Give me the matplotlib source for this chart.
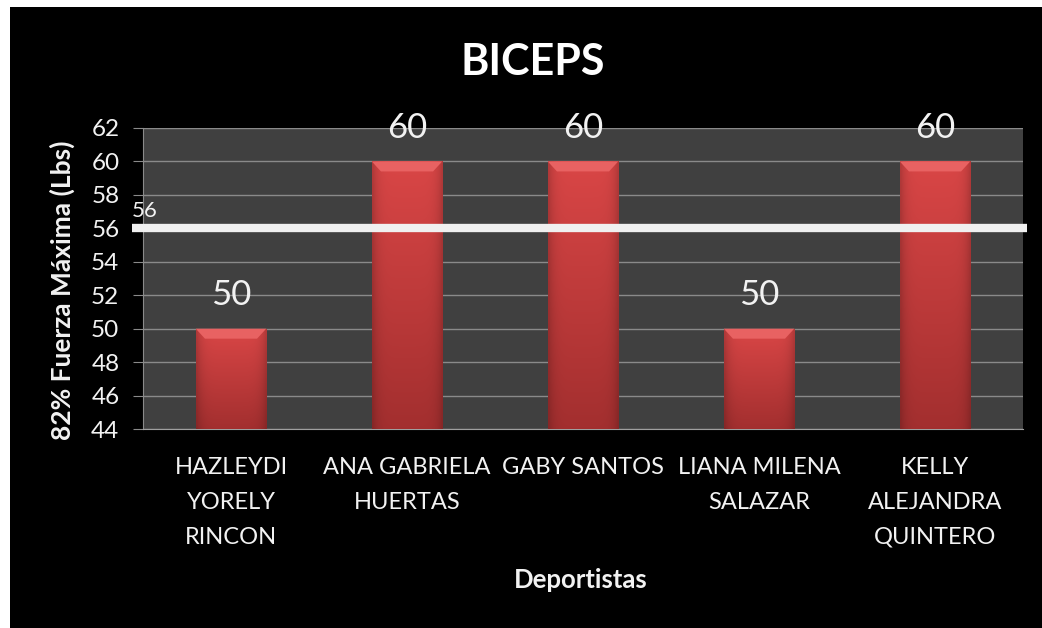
import numpy as np
import matplotlib
matplotlib.use("Agg")
import matplotlib.pyplot as plt
import matplotlib.transforms as mtransforms
from matplotlib.patches import Rectangle, Polygon
from matplotlib.colors import to_rgb

plt.rcParams['font.family'] = ['Lato', 'DejaVu Sans']

# datos del gráfico
deportistas = ["HAZLEYDI\nYORELY\nRINCON", "ANA GABRIELA\nHUERTAS", "GABY SANTOS",
               "LIANA MILENA\nSALAZAR", "KELLY\nALEJANDRA\nQUINTERO"]
fuerza = [50, 60, 60, 50, 60]
referencia = 56
y_ticks = list(range(44, 63, 2))

texto = '#f2f2f2'
gris = '#8a8a8a'

fig = plt.figure(figsize=(10.42, 6.28), dpi=100)
fig.patch.set_facecolor('white')
# fondo negro del gráfico (borde blanco arriba e izquierda)
fig.patches.append(Rectangle((10 / 1042, 0), 1, 1 - 7 / 628, transform=fig.transFigure,
                             facecolor='black', edgecolor='none', zorder=-10))

ax = fig.add_axes([143 / 1042, 1 - 429 / 628, 880 / 1042, 301 / 628])
ax.set_facecolor('#404040')

x = np.arange(len(deportistas))
ancho = 0.4
barras = ax.bar(x, fuerza, width=ancho, color='#c83c3c', zorder=3)

ax.set_xlim(-0.5, len(deportistas) - 0.5)
ax.set_ylim(y_ticks[0], y_ticks[-1])
ax.set_yticks(y_ticks)
ax.yaxis.grid(True, color=gris, lw=1, zorder=1)
ax.set_axisbelow(True)

# degradado rojo en cada barra + bisel superior
top_c = np.array(to_rgb('#d94646'))
bot_c = np.array(to_rgb('#a32f2f'))
filas = np.linspace(0, 1, 60)[:, None]
cols = np.linspace(-1, 1, 40)[None, :]
borde = 1 - 0.18 * np.abs(cols) ** 6
grad = (top_c[None, None, :] * (1 - filas[..., None]) + bot_c[None, None, :] * filas[..., None])
grad = grad * borde[..., None]
ymin = ax.get_ylim()[0]
px_y = (y_ticks[-1] - y_ticks[0]) / 301.0
for b in barras:
    x0, w, h = b.get_x(), b.get_width(), b.get_height()
    im = ax.imshow(grad, extent=(x0, x0 + w, ymin, h), aspect='auto', zorder=3.5,
                   interpolation='bilinear')
    im.set_clip_path(b)
    dx = w * 0.13
    dy = 10 * px_y
    ax.add_patch(Polygon([(x0, h), (x0 + w, h), (x0 + w - dx, h - dy), (x0 + dx, h - dy)],
                         closed=True, facecolor='#e86262', edgecolor='none', zorder=3.6))
    ax.annotate(f"{h:.0f}", (x0 + w / 2, h), xytext=(0, 17), textcoords='offset points',
                ha='center', va='baseline', color=texto, fontsize=25, zorder=5)

# línea de referencia
trans = mtransforms.blended_transform_factory(ax.transAxes, ax.transData)
ax.plot([-0.0125, 1.0045], [referencia, referencia], transform=trans, color='#f0f0f0',
        lw=6, solid_capstyle='butt', clip_on=False, zorder=4)
ax.annotate(f"{referencia}", (-0.0125, referencia), xycoords=trans, xytext=(0, 8),
            textcoords='offset points', ha='left', va='baseline', color=texto, fontsize=16,
            zorder=5, annotation_clip=False)

ax.set_xticks(x, deportistas)
for s in ['top', 'right']:
    ax.spines[s].set_visible(False)
ax.spines['left'].set_color(gris)
ax.spines['bottom'].set_color('#a0a0a0')
ax.tick_params(axis='x', length=0, pad=20, labelsize=17, labelcolor=texto)
ax.tick_params(axis='y', length=7, color=gris, pad=10, labelsize=17.5, labelcolor=texto)
for lab in ax.get_xticklabels():
    lab.set_linespacing(1.82)

ax.set_ylabel("82% Fuerza Máxima (Lbs)", fontsize=19, fontweight='bold', color=texto)
ax.yaxis.set_label_coords(-0.077, 0.462)

fig.text(533 / 1042, 1 - 75 / 628, "BICEPS", ha='center', va='baseline',
         fontsize=31, fontweight='bold', color='white')
fig.text(581 / 1042, 1 - 588 / 628, "Deportistas", ha='center', va='baseline',
         fontsize=18.5, fontweight='bold', color=texto)

fig.savefig('out.png', dpi=100, facecolor=fig.get_facecolor())
